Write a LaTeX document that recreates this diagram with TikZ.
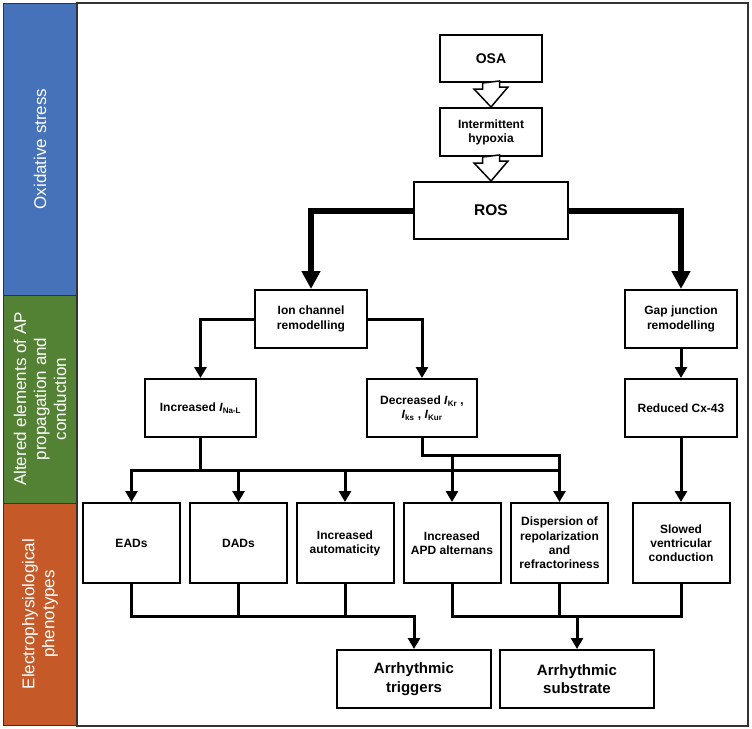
\documentclass[tikz,border=0pt]{standalone}
\usepackage{fontspec}
\setmainfont{Liberation Sans}
\usetikzlibrary{arrows.meta}

\definecolor{oxblue}{RGB}{70,114,185}
\definecolor{apgreen}{RGB}{84,130,53}
\definecolor{eporange}{RGB}{197,90,40}

\tikzset{
    box/.style={draw, line width=2pt, inner sep=2pt, align=center,
        font=\fontsize{12}{14.2}\selectfont\bfseries},
    bigbox/.style={box, font=\fontsize{15}{18.5}\selectfont\bfseries},
    band/.style={draw=black!80, line width=1pt},
    bandtext/.style={rotate=90, text=white, align=center,
        font=\fontsize{17}{20}\selectfont},
    conn/.style={line width=3pt, line cap=rect},
    arr/.style={line width=3pt, -{Triangle[width=12pt,length=11pt]}},
    bigarr/.style={line width=6pt, -{Triangle[width=18pt,length=18pt]}},
    hollow/.style={draw, fill=white, line width=1.5pt, line join=miter},
}

\begin{document}
\begin{tikzpicture}[x=1pt, y=-1pt]
    \useasboundingbox (0,0) rectangle (752,728);

    % side bands
    \draw[band, fill=oxblue] (3,3) rectangle (77,295);
    \draw[band, fill=apgreen] (3,295) rectangle (77,503);
    \draw[band, fill=eporange] (3,503) rectangle (77,725);
    \draw[line width=1.5pt, black!80] (77,3) rectangle (748,726);
    \node[bandtext] (oxlab) at (40,149) {Oxidative stress};
    \node[bandtext] (aplab) at (40,399) {Altered elements of AP\\propagation and\\conduction};
    \node[bandtext] (eplab) at (40,614) {Electrophysiological\\phenotypes};

    % boxes
    \node[box, minimum width=102pt, minimum height=47pt, font=\fontsize{14}{16}\selectfont\bfseries] (osa) at (491,58.5) {OSA};
    \node[box, minimum width=102pt, minimum height=48pt] (hyp) at (491,132) {Intermittent\\hypoxia};
    \node[box, minimum width=154pt, minimum height=57pt, font=\fontsize{15.5}{18}\selectfont\bfseries] (ros) at (491,210.5) {ROS};
    \node[box, minimum width=112pt, minimum height=58pt] (ion) at (311,319) {Ion channel\\remodelling};
    \node[box, minimum width=112pt, minimum height=58pt] (gap) at (681,319) {Gap junction\\remodelling};
    \node[box, minimum width=111pt, minimum height=58pt] (ina) at (200.5,408) {Increased \textit{I}\textsubscript{Na-L}};
    \node[box, minimum width=110pt, minimum height=58pt] (dec) at (422,408) {Decreased \textit{I}\textsubscript{Kr} ,\\\textit{I}\textsubscript{ks} , \textit{I}\textsubscript{Kur}};
    \node[box, minimum width=112pt, minimum height=58pt] (cx) at (681,408) {Reduced Cx-43};
    \node[box, minimum width=97pt, minimum height=80pt] (eads) at (131.5,543) {EADs};
    \node[box, minimum width=97pt, minimum height=80pt] (dads) at (238.5,543) {DADs};
    \node[box, minimum width=97pt, minimum height=80pt] (auto) at (345,543) {Increased\\automaticity};
    \node[box, minimum width=97pt, minimum height=80pt] (apd) at (452,543) {Increased\\APD alternans};
    \node[box, minimum width=97pt, minimum height=80pt] (disp) at (559.5,543) {Dispersion of\\repolarization\\and\\refractoriness};
    \node[box, minimum width=97pt, minimum height=80pt] (slow) at (681,543) {Slowed\\ventricular\\conduction};
    \node[bigbox, minimum width=154pt, minimum height=58pt] (trig) at (414,679) {Arrhythmic\\triggers};
    \node[bigbox, minimum width=154pt, minimum height=58pt] (subs) at (577,679) {Arrhythmic\\substrate};

    % hollow arrows
    \foreach \a/\b in {osa/hyp, hyp/ros}
        \draw[hollow] ([xshift=-8.5pt]\a.south) -- ++(0,6) -- ++(-8.5,0) -- (\b.north)
            -- ++(17,-20) -- ++(-8.5,0) -- ++(0,-6) -- cycle;

    \draw[bigarr] (ros.west) -| (ion.north);
    \draw[bigarr] (ros.east) -| (gap.north);

    \draw[arr] (ion.west) -| (ina.north);
    \draw[arr] (ion.east) -| (dec.north);
    \draw[arr] (gap.south) -- (cx.north);
    \draw[arr] (cx.south) -- (slow.north);

    \coordinate (busA) at (200.5,470);
    \coordinate (busB) at (422,455);
    \draw[conn] (ina.south) -- (busA);
    \draw[conn] (eads.north |- busA) -- (disp.north |- busA);
    \foreach \n in {eads,dads,auto,apd,disp}
        \draw[arr] (\n.north |- busA) -- (\n.north);
    \draw[conn] (dec.south) -- (busB) -- (disp.north |- busB) -- (disp.north |- busA);
    \draw[conn] (apd.north |- busB) -- (apd.north |- busA);

    \coordinate (busC) at (414,616);
    \coordinate (busD) at (577,616);
    \draw[conn] (eads.south) -- (eads.south |- busC) -- (busC);
    \draw[conn] (dads.south) -- (dads.south |- busC);
    \draw[conn] (auto.south) -- (auto.south |- busC);
    \draw[arr] (busC) -- (trig.north);
    \draw[conn] (apd.south) -- (apd.south |- busD) -| (slow.south);
    \draw[conn] (disp.south) -- (disp.south |- busD);
    \draw[arr] (busD) -- (subs.north);
\end{tikzpicture}
\end{document}
